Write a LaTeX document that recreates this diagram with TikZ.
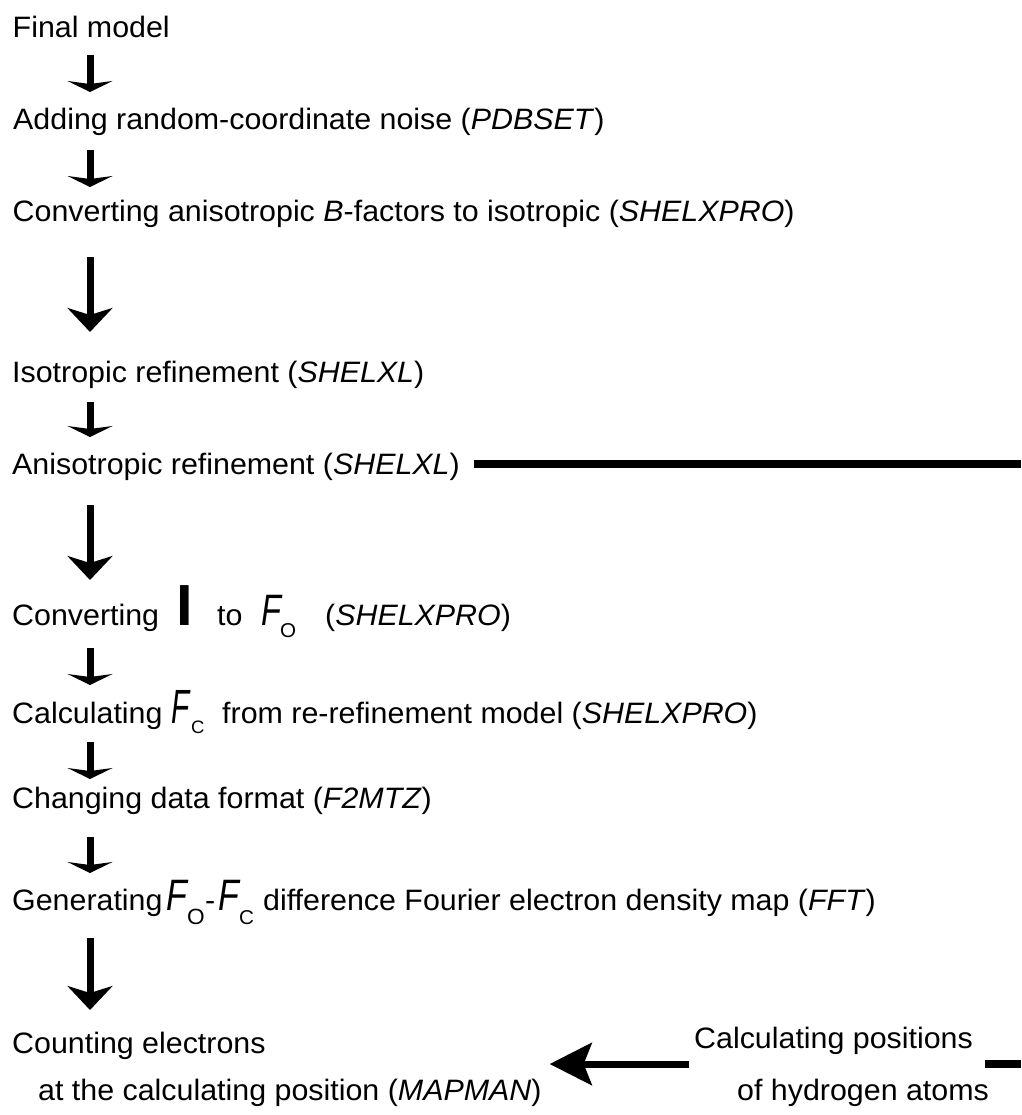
\documentclass[tikz,border=0pt]{standalone}
\usepackage{fontspec}
\usepackage{graphicx}
\setmainfont{Liberation Sans}[FakeStretch=1.03]
\usetikzlibrary{arrows.meta}
\begin{document}
\begin{tikzpicture}[x=1pt,y=-1pt,
  txt/.style={anchor=base west, inner sep=0pt, font=\fontsize{29.5}{34}\selectfont},
  sym/.style={anchor=base west, inner sep=0pt, font=\fontsize{#1}{#1}\selectfont\itshape},
  subs/.style={anchor=base west, inner sep=0pt, font=\fontsize{#1}{#1}\selectfont},
  flow/.style={line width=7pt, -{Stealth[length=11pt,width=45pt,inset=3pt]}},
  longflow/.style={line width=7pt, -{Stealth[length=24pt,width=45pt,inset=7pt]}},
  backflow/.style={line width=7pt, -{Stealth[length=42pt,width=42pt,inset=8pt]}},
  rulebar/.style={line width=8pt}
]
\useasboundingbox (0,0) rectangle (1021,1115);

% column of arrows
\coordinate (ax) at (90,0);
\coordinate (ra) at (1021,464);
\coordinate (rb) at (1021,1064);

% processing steps
\node[txt] (T1) at (12.5,38) {Final model};
\node[txt] (T2) at (13,130) {Adding random-coordinate noise (\textit{PDBSET})};
\node[txt] (T3) at (12.5,222) {Converting anisotropic \textit{B}-factors to isotropic (\textit{SHELXPRO})};
\node[txt] (T4) at (12,382) {Isotropic refinement (\textit{SHELXL})};
\node[txt] (T5) at (12,474) {Anisotropic refinement (\textit{SHELXL})};

\node[txt] (T6) at (12,625) {Converting};
\node[anchor=base west, inner sep=0pt, font=\fontsize{58}{58}\selectfont\bfseries] (T6I) at (176,625) {I};
\node[txt] (T6to) at (217,625) {to};
\node[sym=44] (T6F) at (261,625) {\scalebox{0.72}[1]{F}};
\node[subs=20] (T6O) at (280,637) {O};
\node[txt] (T6p) at (325,625) {(\textit{SHELXPRO})};

\node[txt] (T7) at (12,723) {Calculating};
\node[sym=48] (T7F) at (171,723) {\scalebox{0.6}[1]{F}};
\node[subs=18] (T7C) at (191,733) {C};
\node[txt] (T7t) at (222,723) {from re-refinement model (\textit{SHELXPRO})};

\node[txt] (T8) at (12,808) {Changing data format (\textit{F2MTZ})};

\node[txt] (T9) at (12,910) {Generating};
\node[sym=44] (T9F1) at (166,910) {\scalebox{0.75}[1]{F}};
\node[subs=22] (T9O) at (187,924) {O};
\node[txt] (T9d) at (205,910) {-};
\node[sym=44] (T9F2) at (218,910) {\scalebox{0.75}[1]{F}};
\node[subs=20] (T9C) at (239,924) {C};
\node[txt] (T9t) at (263,910) {difference Fourier electron density map (\textit{FFT})};

\node[txt] (C1) at (12,1053) {Counting electrons};
\node[txt] (C2) at (38,1100) {at the calculating position (\textit{MAPMAN})};

\node[txt] (H1) at (694,1048) {Calculating positions};
\node[txt] (H2) at (737,1100) {of hydrogen atoms};

% downward flow
\draw[flow, shorten <=17pt, shorten >=38pt] (T1.base -| ax) -- (T2.base -| ax);
\draw[flow, shorten <=20pt, shorten >=35pt] (T2.base -| ax) -- (T3.base -| ax);
\draw[longflow, shorten <=35pt, shorten >=50pt] (T3.base -| ax) -- (T4.base -| ax);
\draw[flow, shorten <=20pt, shorten >=37pt] (T4.base -| ax) -- (T5.base -| ax);
\draw[longflow, shorten <=31pt, shorten >=45pt] (T5.base -| ax) -- (T6.base -| ax);
\draw[flow, shorten <=23pt, shorten >=38pt] (T6.base -| ax) -- (T7.base -| ax);
\draw[flow, shorten <=19pt, shorten >=29pt] (T7.base -| ax) -- (T8.base -| ax);
\draw[flow, shorten <=29pt, shorten >=37pt] (T8.base -| ax) -- (T9.base -| ax);
\draw[longflow, shorten <=28pt, shorten >=43pt] (T9.base -| ax) -- (C1.base -| ax);

% side branch
\draw[rulebar, shorten <=14pt] (T5.east |- ra) -- (ra);
\draw[backflow, shorten <=5pt, shorten >=8pt] (H1.west |- rb) -- (C2.east |- rb);
\draw[rulebar, shorten <=12pt] (H1.east |- rb) -- (rb);
\end{tikzpicture}
\end{document}
